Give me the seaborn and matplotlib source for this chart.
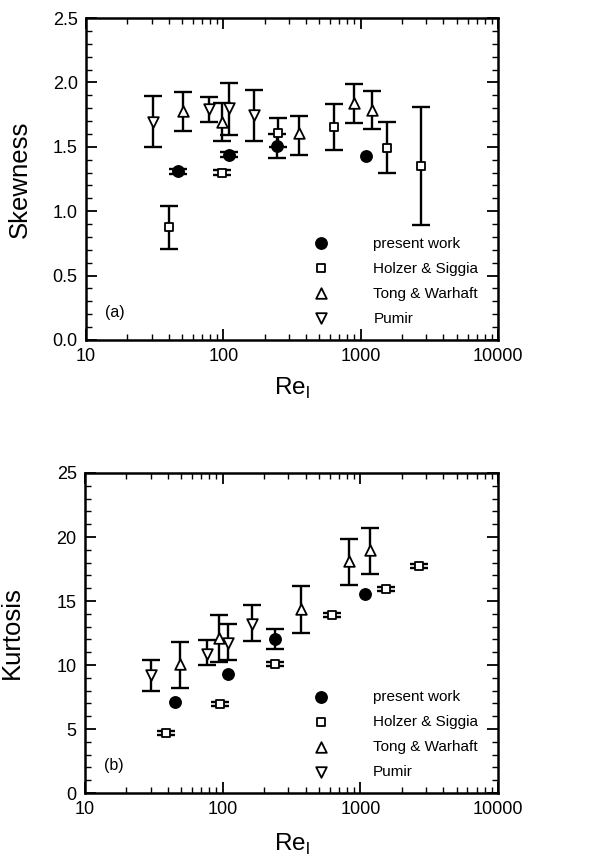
import numpy as np
import pandas as pd
import matplotlib
matplotlib.use("Agg")
import matplotlib.pyplot as plt
import seaborn as sns
from matplotlib.ticker import FixedLocator, MultipleLocator, LogLocator, NullFormatter, FuncFormatter

# ---------------- data ----------------
series_names = ["present work", "Holzer & Siggia", "Tong & Warhaft", "Pumir"]

# Skewness panel (a)
sk_present_x = [47, 110, 247, 1100]
sk_present_y = [1.31, 1.44, 1.51, 1.43]
sk_present_lo = [1.29, 1.42, 1.41, 1.43]
sk_present_hi = [1.33, 1.46, 1.60, 1.43]

sk_holzer_x = [40, 98, 249, 644, 1567, 2742]
sk_holzer_y = [0.875, 1.30, 1.61, 1.656, 1.493, 1.351]
sk_holzer_lo = [0.707, 1.28, 1.50, 1.475, 1.299, 0.893]
sk_holzer_hi = [1.043, 1.32, 1.72, 1.832, 1.69, 1.811]

sk_tong_x = [51, 97, 356, 895, 1217]
sk_tong_y = [1.778, 1.695, 1.605, 1.838, 1.786]
sk_tong_lo = [1.623, 1.543, 1.439, 1.687, 1.636]
sk_tong_hi = [1.925, 1.838, 1.739, 1.985, 1.933]

sk_pumir_x = [30.6, 79, 110, 167]
sk_pumir_y = [1.695, 1.79, 1.80, 1.747]
sk_pumir_lo = [1.50, 1.695, 1.59, 1.545]
sk_pumir_hi = [1.894, 1.889, 1.993, 1.94]

# Kurtosis panel (b)
ku_present_x = [45, 109, 240, 1084]
ku_present_y = [7.11, 9.32, 12.03, 15.52]
ku_present_lo = [7.11, 9.32, 11.28, 15.52]
ku_present_hi = [7.11, 9.32, 12.84, 15.52]

ku_holzer_x = [38.5, 95.7, 240, 621, 1531, 2673]
ku_holzer_y = [4.71, 6.98, 10.1, 13.88, 15.96, 17.73]
ku_holzer_lo = [4.56, 6.83, 9.95, 13.73, 15.81, 17.58]
ku_holzer_hi = [4.86, 7.13, 10.25, 14.03, 16.11, 17.88]

ku_tong_x = [49, 93.5, 372, 829, 1178]
ku_tong_y = [10.05, 12.14, 14.4, 18.1, 19.0]
ku_tong_lo = [8.2, 10.23, 12.53, 16.28, 17.1]
ku_tong_hi = [11.77, 13.88, 16.15, 19.82, 20.7]

ku_pumir_x = [30, 76.6, 109, 163]
ku_pumir_y = [9.19, 10.89, 11.72, 13.18]
ku_pumir_lo = [7.97, 9.97, 10.36, 11.88]
ku_pumir_hi = [10.42, 11.93, 13.18, 14.66]

x_ticks = [10, 100, 1000, 10000]
x_ticklabels = ["10", "100", "1000", "10000"]

# ---------------- style ----------------
sns.set_style("ticks")
plt.rcParams["font.family"] = ["Liberation Sans", "DejaVu Sans"]
plt.rcParams["mathtext.fontset"] = "custom"
plt.rcParams["mathtext.rm"] = "Liberation Sans"
plt.rcParams["text.color"] = "black"
plt.rcParams["axes.labelcolor"] = "black"

fig = plt.figure(figsize=(6.16, 8.58), dpi=100)
W, H = 616, 858
ax1 = fig.add_axes([86 / W, 1 - 340 / H, 412 / W, 322 / H])
ax2 = fig.add_axes([85 / W, 1 - 793 / H, 413 / W, 320 / H])

marker_style = {
    "present work": dict(marker="o", s=68, color="black", edgecolor="black", linewidth=1.0),
    "Holzer & Siggia": dict(marker="s", s=36, color="white", edgecolor="black", linewidth=1.3),
    "Tong & Warhaft": dict(marker="^", s=58, color="white", edgecolor="black", linewidth=1.3),
    "Pumir": dict(marker="v", s=58, color="white", edgecolor="black", linewidth=1.3),
}


def draw_panel(ax, data, ylim, ymajor, yminor, yfmt, ylabel, tag, ylabel_x, xlabel_y):
    for name, (x, y, lo, hi) in zip(series_names, data):
        x = np.asarray(x, float)
        y = np.asarray(y, float)
        lo = np.asarray(lo, float)
        hi = np.asarray(hi, float)
        keep = (hi - lo) > 0
        if keep.any():
            yerr = np.vstack([y[keep] - lo[keep], hi[keep] - y[keep]])
            ax.errorbar(x[keep], y[keep], yerr=yerr, fmt="none", ecolor="black",
                        elinewidth=1.7, capsize=6.5, capthick=1.7, zorder=2)
    for name, (x, y, lo, hi) in zip(series_names, data):
        df = pd.DataFrame({"x": x, "y": y})
        sns.scatterplot(data=df, x="x", y="y", ax=ax, label=name, zorder=3,
                        **marker_style[name])
    ax.set_xscale("log")
    ax.set_xlim(10, 10000)
    ax.set_ylim(*ylim)
    ax.xaxis.set_major_locator(FixedLocator(x_ticks))
    ax.set_xticklabels(x_ticklabels)
    ax.xaxis.set_minor_locator(LogLocator(base=10, subs=np.arange(2, 10)))
    ax.xaxis.set_minor_formatter(NullFormatter())
    ax.yaxis.set_major_locator(MultipleLocator(ymajor))
    ax.yaxis.set_minor_locator(MultipleLocator(yminor))
    ax.yaxis.set_major_formatter(FuncFormatter(yfmt))
    ax.tick_params(which="both", direction="in", top=True, right=True,
                   color="black", labelsize=13, labelcolor="black")
    ax.tick_params(which="major", length=8, width=1.3, pad=6)
    ax.tick_params(which="minor", length=4, width=1.0)
    for sp in ax.spines.values():
        sp.set_linewidth(1.8)
        sp.set_color("black")
    ax.set_ylabel(ylabel, fontsize=18.5, color="black")
    ax.yaxis.set_label_coords(ylabel_x, 0.5)
    ax.set_xlabel(r"Re$_\mathregular{l}$", fontsize=17.5, color="black")
    ax.xaxis.set_label_coords(0.5, xlabel_y)
    ax.text(0.045, 0.085, tag, transform=ax.transAxes, fontsize=11.5,
            ha="left", va="center", color="black")
    leg = ax.legend(loc="lower left", bbox_to_anchor=(0.553, 0.045), frameon=False,
                    fontsize=11, handlelength=1.0, handletextpad=2.9,
                    labelspacing=0.72, borderpad=0, borderaxespad=0)
    for t in leg.get_texts():
        t.set_color("black")
    ax.grid(False)


draw_panel(ax1,
           [(sk_present_x, sk_present_y, sk_present_lo, sk_present_hi),
            (sk_holzer_x, sk_holzer_y, sk_holzer_lo, sk_holzer_hi),
            (sk_tong_x, sk_tong_y, sk_tong_lo, sk_tong_hi),
            (sk_pumir_x, sk_pumir_y, sk_pumir_lo, sk_pumir_hi)],
           (0, 2.5), 0.5, 0.1, lambda v, p: f"{v:.1f}", "Skewness", "(a)", -0.131, -0.11)

draw_panel(ax2,
           [(ku_present_x, ku_present_y, ku_present_lo, ku_present_hi),
            (ku_holzer_x, ku_holzer_y, ku_holzer_lo, ku_holzer_hi),
            (ku_tong_x, ku_tong_y, ku_tong_lo, ku_tong_hi),
            (ku_pumir_x, ku_pumir_y, ku_pumir_lo, ku_pumir_hi)],
           (0, 25), 5, 1, lambda v, p: f"{v:.0f}", "Kurtosis", "(b)", -0.148, -0.12)

fig.savefig("out.png", dpi=100)
